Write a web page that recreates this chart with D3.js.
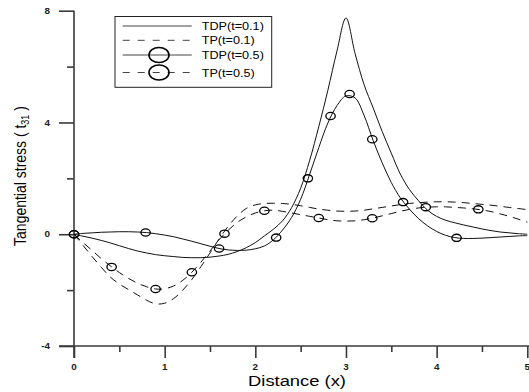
<!DOCTYPE html>
<html>
<head>
<meta charset="utf-8">
<script src="https://cdn.jsdelivr.net/npm/d3@7"></script>
<style>
  html, body { margin: 0; padding: 0; background: #fff; }
  svg { display: block; }
  text { font-family: "Liberation Sans", Arial, sans-serif; }
</style>
</head>
<body>
<svg id="chart" width="529" height="392"></svg>
<script>
// Sampling positions along the distance axis
const xs = [0.0,0.1,0.2,0.3,0.4,0.5,0.6,0.7,0.8,0.9,
            1.0,1.1,1.2,1.3,1.4,1.5,1.6,1.7,1.8,1.9,
            2.0,2.1,2.2,2.3,2.4,2.5,2.6,2.7,2.8,2.9,
            3.0,3.1,3.2,3.3,3.4,3.5,3.6,3.7,3.8,3.9,
            4.0,4.1,4.2,4.3,4.4,4.5,4.6,4.7,4.8,4.9,5.0];

// Tangential stress, TDP model, t = 0.1
const tdp01 = [0,-0.07,-0.14,-0.22,-0.31,-0.41,-0.51,-0.60,-0.67,-0.73,
               -0.77,-0.80,-0.83,-0.84,-0.84,-0.82,-0.78,-0.72,-0.62,-0.48,
               -0.30,-0.06,0.18,0.48,0.95,1.65,2.65,3.85,5.15,6.55,
               7.74,6.47,5.35,4.52,3.67,2.90,2.15,1.60,1.20,0.86,
               0.64,0.50,0.41,0.33,0.26,0.19,0.13,0.08,0.05,0.02,0.0];

// Tangential stress, TP model, t = 0.1
const tp01 = [0,-0.40,-0.80,-1.18,-1.53,-1.78,-1.98,-2.17,-2.36,-2.49,
              -2.47,-2.30,-2.00,-1.62,-1.16,-0.67,-0.17,0.28,0.65,0.92,
              1.05,1.10,1.11,1.10,1.07,1.02,0.96,0.90,0.86,0.83,
              0.82,0.83,0.86,0.91,0.96,1.01,1.06,1.10,1.13,1.15,
              1.16,1.16,1.15,1.13,1.10,1.07,1.04,1.00,0.96,0.92,0.88];

// Tangential stress, TDP model, t = 0.5
const tdp05 = [0,0.03,0.05,0.07,0.08,0.09,0.09,0.08,0.06,0.02,
               -0.03,-0.09,-0.17,-0.25,-0.34,-0.43,-0.51,-0.56,-0.58,-0.57,
               -0.52,-0.42,-0.20,0.15,0.60,1.25,2.15,3.10,3.98,4.60,
               4.95,4.88,4.25,3.35,2.55,1.85,1.30,0.90,0.56,0.30,
               0.10,-0.04,-0.12,-0.15,-0.15,-0.14,-0.12,-0.10,-0.08,-0.06,-0.05];

// Tangential stress, TP model, t = 0.5
const tp05 = [0,-0.30,-0.58,-0.87,-1.13,-1.37,-1.58,-1.75,-1.88,-1.96,
              -1.95,-1.85,-1.65,-1.36,-1.00,-0.60,-0.20,0.14,0.42,0.62,
              0.76,0.84,0.86,0.82,0.76,0.70,0.64,0.58,0.52,0.48,
              0.47,0.48,0.52,0.58,0.66,0.74,0.82,0.89,0.94,0.97,
              0.98,0.98,0.96,0.94,0.91,0.87,0.81,0.73,0.64,0.54,0.43];

// Circle symbols placed along the t = 0.5 curves
const tdp05MarkX = [0, 0.79, 1.60, 2.23, 2.58, 2.83, 3.04, 3.29, 3.63, 4.22];
const tdp05MarkY = [0, 0.06, -0.51, -0.12, 2.00, 4.23, 5.02, 3.40, 1.15, -0.13];
const tp05MarkX  = [0, 0.415, 0.90, 1.30, 1.66, 2.10, 2.70, 3.29, 3.88, 4.46];
const tp05MarkY  = [0, -1.17, -1.96, -1.36, 0.02, 0.84, 0.58, 0.57, 0.97, 0.89];

// Axis ticks
const xMajorTicks = [0, 1, 2, 3, 4, 5];
const xMinorTicks = [0.5, 1.5, 2.5, 3.5, 4.5];
const yMajorTicks = [-4, 0, 4, 8];
const yMinorTicks = [-2, 2, 6];

const seriesNames = ["TDP(t=0.1)", "TP(t=0.1)", "TDP(t=0.5)", "TP(t=0.5)"];

const svg = d3.select("#chart");
const STRETCH = 1.15; // horizontal text stretch used throughout the figure

const x = d3.scaleLinear().domain([0, 5]).range([74, 527.3]);
const y = d3.scaleLinear().domain([-4, 8]).range([346, 10.7]);

const axisColor = "#3a3a3a";
const textColor = "#222";

// ---- axes ----
const gx = svg.append("g").attr("transform", `translate(0,${y(-4)})`);
gx.call(d3.axisBottom(x).tickValues(xMajorTicks).tickSize(12).tickFormat(""));
gx.append("g").call(d3.axisBottom(x).tickValues(xMinorTicks).tickSize(6).tickFormat(""));
gx.selectAll(".domain").remove();
gx.append("line").attr("x1", 59).attr("x2", x(5) + 2).attr("y1", 0).attr("y2", 0);
gx.selectAll("line").attr("stroke", axisColor).attr("stroke-width", 1.6);

const gy = svg.append("g").attr("transform", `translate(${x(0)},0)`);
gy.call(d3.axisLeft(y).tickValues(yMajorTicks).tickSize(15).tickFormat(""));
gy.append("g").call(d3.axisLeft(y).tickValues(yMinorTicks).tickSize(7).tickFormat(""));
gy.selectAll(".domain").remove();
gy.append("line").attr("x1", 0).attr("x2", 0).attr("y1", y(8)).attr("y2", y(-4) + 12);
gy.selectAll("line").attr("stroke", axisColor).attr("stroke-width", 1.6);

// tick labels
svg.append("g").selectAll("text").data(xMajorTicks).join("text")
  .attr("transform", d => `translate(${x(d)},${y(-4) + 23.6}) scale(${STRETCH},1)`)
  .attr("text-anchor", "middle")
  .attr("font-size", 8.6).attr("font-weight", "bold").attr("fill", textColor)
  .text(d => d);

svg.append("g").selectAll("text").data(yMajorTicks).join("text")
  .attr("transform", d => `translate(${x(0) - 24},${y(d) + 3.1}) scale(${STRETCH},1)`)
  .attr("text-anchor", "end")
  .attr("font-size", 8.6).attr("font-weight", "bold").attr("fill", textColor)
  .text(d => d);

// axis titles
svg.append("text")
  .attr("transform", `translate(297,386) scale(${STRETCH * 1.03},1)`)
  .attr("text-anchor", "middle").attr("font-size", 15.5).attr("fill", "#000")
  .text("Distance (x)");

const yt = svg.append("text")
  .attr("transform", `translate(26,176) scale(${STRETCH},1) rotate(-90)`)
  .attr("text-anchor", "middle").attr("font-size", 14).attr("fill", "#000");
yt.append("tspan").text("Tangential stress ( t");
yt.append("tspan").attr("font-size", 9).attr("dy", 3).text("31");
yt.append("tspan").attr("dy", -3).text(" )");

// ---- curves ----
const line = (vals) => d3.line()
  .x((d, i) => x(xs[i]))
  .y(d => y(d))
  .curve(d3.curveCatmullRom.alpha(0.5))(vals);

const curveColor = "#111";
const dash = "8,6";
const plot = svg.append("g").attr("fill", "none").attr("stroke", curveColor).attr("stroke-width", 1);

plot.append("path").attr("d", line(tdp01));
plot.append("path").attr("d", line(tp01)).attr("stroke-dasharray", dash);
plot.append("path").attr("d", line(tdp05));
plot.append("path").attr("d", line(tp05)).attr("stroke-dasharray", dash);

// circle symbols
const marks = svg.append("g").attr("fill", "none").attr("stroke", "#000").attr("stroke-width", 1.3);
marks.selectAll("ellipse.tdp").data(tdp05MarkX).join("ellipse")
  .attr("class", "tdp")
  .attr("cx", d => x(d)).attr("cy", (d, i) => y(tdp05MarkY[i]))
  .attr("rx", 4.7).attr("ry", 3.6);
marks.selectAll("ellipse.tp").data(tp05MarkX).join("ellipse")
  .attr("class", "tp")
  .attr("cx", d => x(d)).attr("cy", (d, i) => y(tp05MarkY[i]))
  .attr("rx", 4.7).attr("ry", 3.6);

// ---- legend ----
const legend = svg.append("g");
legend.append("rect")
  .attr("x", 115).attr("y", 16.5).attr("width", 156.7).attr("height", 70.8)
  .attr("fill", "#fff").attr("stroke", "#222").attr("stroke-width", 1);

const rowY = [26, 40.3, 55, 72.5];
const rowDash = [null, "7,8", null, "7,8"];
const rowMark = [false, false, true, true];
seriesNames.forEach((name, i) => {
  const g = legend.append("g");
  g.append("line")
    .attr("x1", 122.7).attr("x2", 191.7).attr("y1", rowY[i]).attr("y2", rowY[i])
    .attr("stroke", "#444").attr("stroke-width", 1)
    .attr("stroke-dasharray", rowDash[i]);
  if (rowMark[i]) {
    g.append("ellipse").attr("cx", 159).attr("cy", rowY[i])
      .attr("rx", 10).attr("ry", 7.5)
      .attr("fill", "none").attr("stroke", "#000").attr("stroke-width", 1.6);
  }
  g.append("text")
    .attr("transform", `translate(201.7,${rowY[i] + 4}) scale(${STRETCH},1)`)
    .attr("font-size", 11).attr("fill", "#000")
    .text(name);
});
</script>
</body>
</html>
